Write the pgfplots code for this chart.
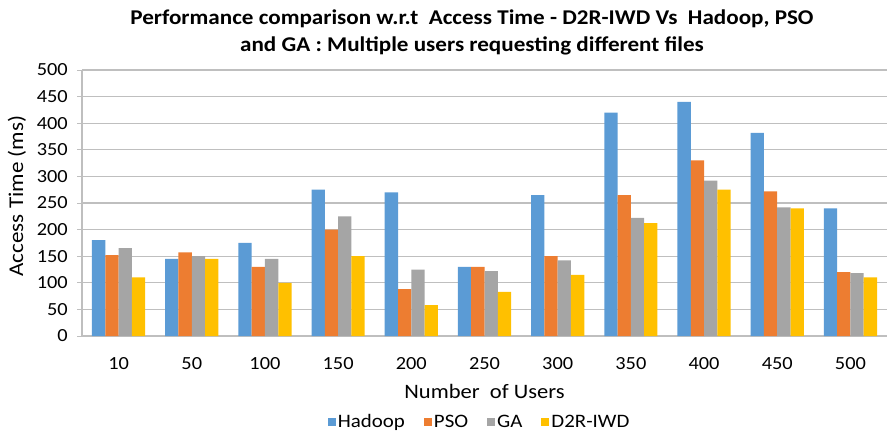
\documentclass[border=0pt]{standalone}
\usepackage{fontspec}
\setmainfont{Carlito}[FakeStretch=1.1]
\usepackage{pgfplots}
\pgfplotsset{compat=1.18}
\definecolor{cHad}{HTML}{5B9BD5}
\definecolor{cPSO}{HTML}{ED7D31}
\definecolor{cGA}{HTML}{A5A5A5}
\definecolor{cD2R}{HTML}{FFC000}
\definecolor{gridc}{HTML}{BFBFBF}
\pgfplotstableread{
x Hadoop PSO GA D2R
0 180 152 165 110
1 145 157 150 145
2 175 130 145 100
3 275 200 225 150
4 270 88 125 58
5 130 130 122 83
6 265 150 142 115
7 420 265 222 212
8 440 330 292 275
9 382 272 242 240
10 240 120 118 110
}\datatable
\begin{document}
\begin{tikzpicture}
\begin{axis}[
  name=ax,
  scale only axis, width=805pt, height=266pt,
  ybar=0pt, bar width=13.3pt,
  xmin=-0.5, xmax=10.5, ymin=0, ymax=500,
  ytick={0,50,...,500},
  xtick={0,...,10},
  xticklabels={10,50,100,150,200,250,300,350,400,450,500},
  major x tick style={draw=none},
  extra x ticks={-0.5,0.5,...,10.5},
  extra x tick labels={},
  extra x tick style={grid=none, tick align=outside, major tick length=6pt, tick style={draw=gridc, line width=1pt}},
  ytick align=outside, major tick length=5pt,
  ymajorgrids, grid style={gridc, line width=1.2pt},
  axis lines*=left,
  axis line style={gridc, line width=1.2pt},
  y tick style={draw=gridc, line width=1pt},
  tick label style={font=\fontsize{18.5}{18.5}\selectfont, /pgf/number format/assume math mode=true, inner sep=0pt},
  xticklabel style={anchor=north, yshift=-16pt},
  yticklabel style={anchor=east, xshift=-9pt},
  ylabel={Access Time (ms)},
  ylabel style={font=\fontsize{21}{21}\selectfont, at={(axis description cs:-0.081,0.526)}, anchor=center, inner sep=0pt},
  xlabel={Number\ \ of Users},
  xlabel style={font=\fontsize{20.5}{20.5}\selectfont, at={(axis description cs:0.5,0)}, anchor=north, yshift=-48pt, inner sep=0pt},
  title={Performance comparison w.r.t\ \ Access Time - D2R-IWD Vs\ \ Hadoop, PSO\\and GA : Multiple users requesting different files},
  title style={font=\bfseries\fontsize{21}{27}\selectfont, align=center, at={(axis description cs:0.4845,1)}, anchor=south, yshift=9pt, inner sep=0pt},
  legend style={at={(axis description cs:0.494,-0.322)}, anchor=center, draw=none, legend columns=4, font=\fontsize{19}{19}\selectfont, nodes={inner sep=2pt}, /tikz/every even column/.append style={column sep=17pt}},
  legend image code/.code={\fill[#1] (0pt,-4pt) rectangle (8pt,4pt);},
  legend cell align=left,
]
\addplot[fill=cHad, draw=none] table[x=x,y=Hadoop]{\datatable};
\addplot[fill=cPSO, draw=none] table[x=x,y=PSO]{\datatable};
\addplot[fill=cGA, draw=none] table[x=x,y=GA]{\datatable};
\addplot[fill=cD2R, draw=none] table[x=x,y=D2R]{\datatable};
\legend{Hadoop,PSO,GA,D2R-IWD}
\end{axis}
\pgfresetboundingbox
\path ([shift={(-82pt,-98pt)}]ax.south west) rectangle ([shift={(3pt,70pt)}]ax.north east);
\end{tikzpicture}
\end{document}
